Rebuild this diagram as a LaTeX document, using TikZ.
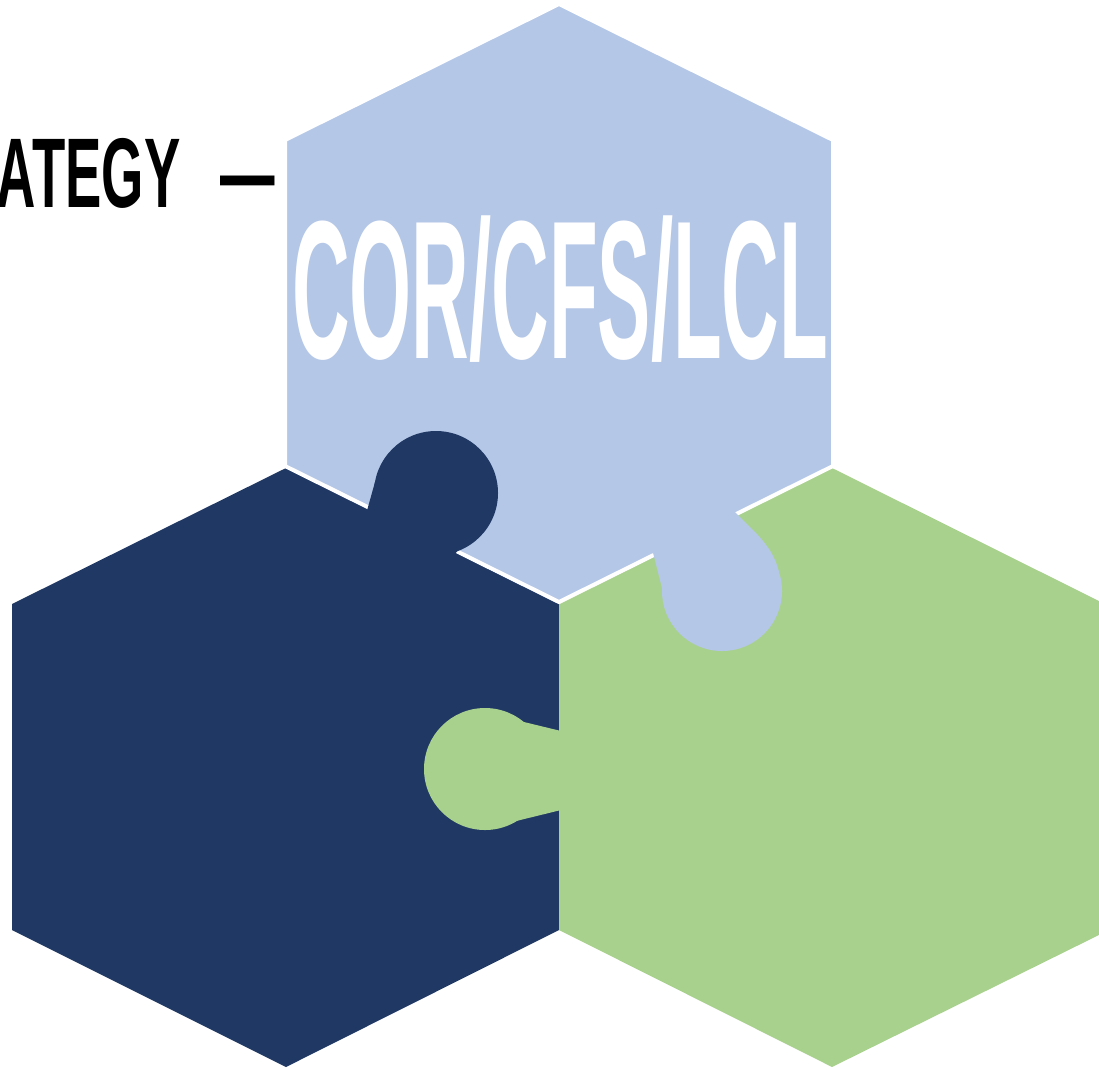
\documentclass[tikz,border=0pt]{standalone}
\usepackage{fontspec}
\setmainfont{Liberation Sans}
\definecolor{hexblue}{HTML}{B4C7E7}
\definecolor{hexnavy}{HTML}{203864}
\definecolor{hexgreen}{HTML}{A9D18E}
\tikzset{
  navyfill/.style={fill=hexnavy, draw=none},
  greenfill/.style={fill=hexgreen, draw=none},
  bluefill/.style={fill=hexblue, draw=none},
  bluehex/.style={fill=hexblue, draw=white, line width=4pt, line join=miter},
  titletext/.style={inner sep=0pt, outer sep=0pt, anchor=base west},
}
\begin{document}
\begin{tikzpicture}[x=1pt, y=-1pt]
\useasboundingbox (0,0) rectangle (1099,1069);
\begin{scope}
\clip (0,0) rectangle (1099,1069);
% navy hexagon
\fill[navyfill] (286,468) -- (559,604) -- (559,930) -- (286,1067) -- (12,930) -- (12,604) -- cycle;
% green hexagon
\fill[greenfill] (832,468) -- (1105,604) -- (1105,932) -- (832,1067) -- (559,930) -- (559,604) -- cycle;
% blue hexagon with white outline
\filldraw[bluehex] (559,4) -- (833,140) -- (833,466) -- (559,602) -- (285,466) -- (285,140) -- cycle;
% navy tab (into blue)
\fill[navyfill] (436,493) circle (62);
\fill[navyfill] (363,525) -- (375,482) -- (468,539) -- (446,564) -- cycle;
% blue tab (into green)
\fill[bluefill] (722,591) circle (60);
\fill[bluefill] (649,537) -- (663,592) -- (779,572) .. controls (775,556) and (768,546) .. (756,533) -- (726,503) -- cycle;
% green tab (into navy)
\fill[greenfill] (485,769) circle (61);
\fill[greenfill] (524,722) -- (561,731) -- (561,810) -- (508,823) -- cycle;
% texts
\node[titletext] (strategy) at (-3,207)
  {\fontsize{99}{99}\selectfont\bfseries\scalebox{0.55}[1]{ATEGY\hspace{73pt}—}};
\node[titletext, text=white] (corcfslcl) at (292,358)
  {\fontsize{197}{197}\selectfont\bfseries\scalebox{0.405}[1]{COR/CFS/LCL}};
\end{scope}
\end{tikzpicture}
\end{document}
